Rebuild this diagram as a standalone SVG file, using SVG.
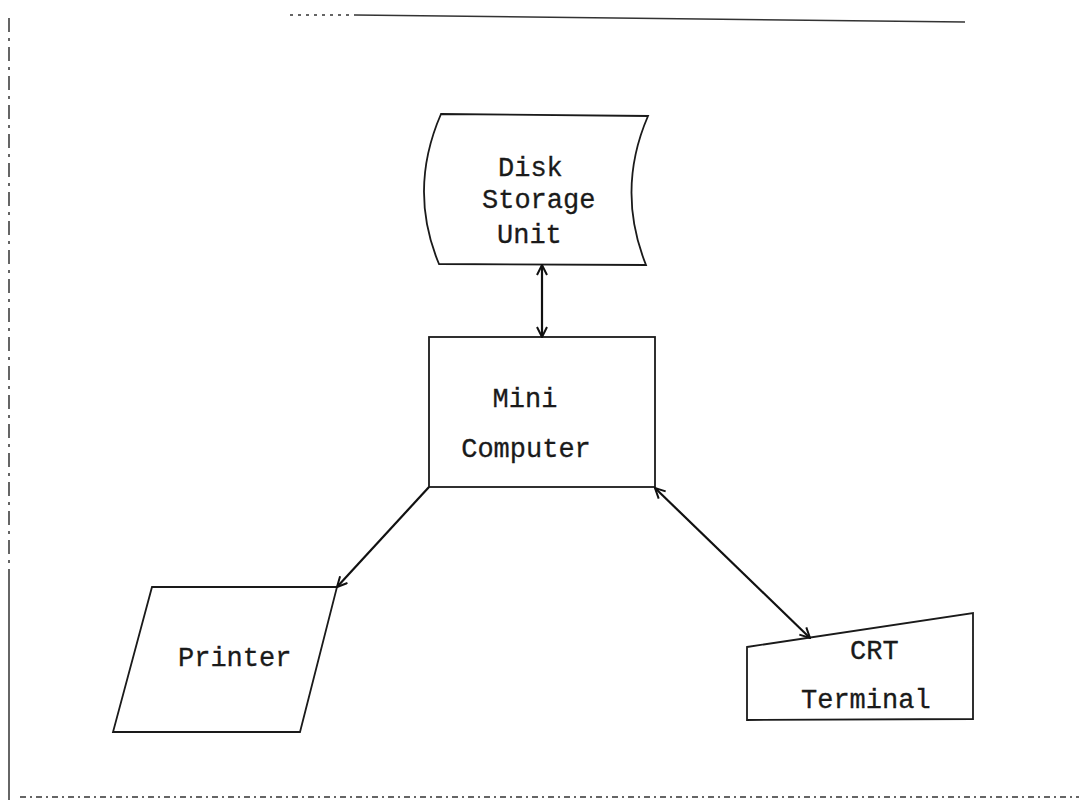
<svg xmlns="http://www.w3.org/2000/svg" width="1079" height="807" viewBox="0 0 1079 807">
<style>
.shape{fill:none;stroke:#1a1a1a;stroke-width:1.8;stroke-linejoin:miter}
.lbl{font-family:"Liberation Mono","Courier New",monospace;font-size:27px;fill:#1a1a1a;stroke:#1a1a1a;stroke-width:0.3}
.conn{fill:none;stroke:#111;stroke-width:2.2}
.page{fill:none;stroke:#333;stroke-width:1.5}
</style>
<defs>
<marker id="ah" viewBox="0 0 12 12" refX="11" refY="6" markerWidth="12" markerHeight="12" markerUnits="userSpaceOnUse" orient="auto-start-reverse">
<path d="M1,1 L11,6 L1,11" fill="none" stroke="#111" stroke-width="2"/>
</marker>
</defs>
<rect width="1079" height="807" fill="#fff"/>
<g id="page-edges">
<line class="page" x1="9" y1="18" x2="9" y2="580" stroke-dasharray="14 6 3 6"/>
<line class="page" x1="9" y1="580" x2="9" y2="800" stroke-width="2"/>
<line class="page" x1="290" y1="15" x2="355" y2="15" stroke="#999" stroke-width="1" stroke-dasharray="3 5"/>
<line class="page" x1="355" y1="15" x2="965" y2="22" stroke-width="1.8"/>
<line class="page" x1="20" y1="797" x2="1079" y2="797" stroke="#bbb" stroke-width="1" stroke-dasharray="6 4 2 4"/>
</g>
<g id="disk-storage-unit">
<path class="shape" d="M441,114 L648,116 Q616,190 646,265 L439,264 Q408,190 441,114 Z"/>
<text class="lbl" x="498" y="176">Disk</text>
<text class="lbl" x="482" y="208">Storage</text>
<text class="lbl" x="497" y="243">Unit</text>
</g>
<g id="mini-computer">
<rect class="shape" x="429" y="337" width="226" height="150"/>
<text class="lbl" x="525" y="407" text-anchor="middle">Mini</text>
<text class="lbl" x="526" y="457" text-anchor="middle">Computer</text>
</g>
<g id="printer">
<path class="shape" d="M152,587 L337,587 L300,732 L113,732 Z"/>
<text class="lbl" x="178" y="666">Printer</text>
</g>
<g id="crt-terminal">
<path class="shape" d="M747,647 L973,613 L973,719 L747,720 Z"/>
<text class="lbl" x="850" y="659">CRT</text>
<text class="lbl" x="801" y="708">Terminal</text>
</g>
<g id="connectors">
<line class="conn" x1="542" y1="265" x2="542" y2="337" marker-start="url(#ah)" marker-end="url(#ah)"/>
<line class="conn" x1="429" y1="487" x2="337" y2="587" marker-end="url(#ah)"/>
<line class="conn" x1="655" y1="488" x2="810" y2="638" marker-start="url(#ah)" marker-end="url(#ah)"/>
</g>
</svg>
